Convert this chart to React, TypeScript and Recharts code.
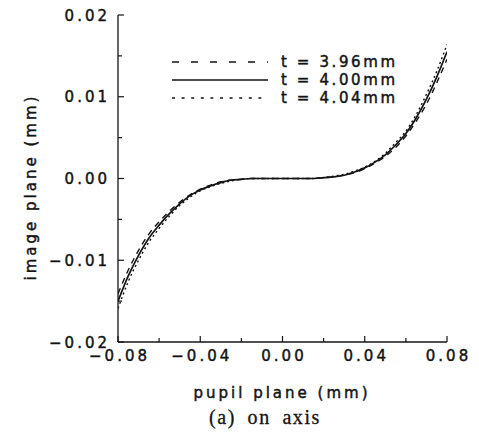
import React from 'react';
import { LineChart, Line, XAxis, YAxis, Customized } from 'recharts';

// pupil plane coordinate (mm)
const pupil = [
  -0.08, -0.075, -0.07, -0.065, -0.06, -0.055, -0.05, -0.045, -0.04, -0.035, -0.03, -0.025, -0.02,
  -0.015, -0.01, -0.005, 0, 0.005, 0.01, 0.015, 0.02, 0.025, 0.03, 0.035, 0.04, 0.045, 0.05, 0.055,
  0.06, 0.065, 0.07, 0.075, 0.08,
];
// image plane (mm), t = 3.96mm (dashed)
const t396 = [
  -0.0141, -0.0112, -0.0088, -0.0068, -0.0053, -0.004, -0.0029, -0.002, -0.0013, -0.0008, -0.0004,
  -0.0002, -0.0001, 0, 0, 0, 0, 0, 0, 0, 0.0001, 0.0002, 0.0004, 0.0007, 0.0012, 0.0019, 0.0027,
  0.0038, 0.0052, 0.007, 0.0091, 0.0117, 0.0146,
];
// t = 4.00mm (solid)
const t400 = [
  -0.015, -0.0119, -0.0094, -0.0073, -0.0057, -0.0043, -0.0031, -0.0021, -0.0014, -0.0009, -0.0005,
  -0.0002, -0.0001, 0, 0, 0, 0, 0, 0, 0, 0.0001, 0.0002, 0.0004, 0.0008, 0.0013, 0.002, 0.0029,
  0.0041, 0.0055, 0.0074, 0.0097, 0.0124, 0.0155,
];
// t = 4.04mm (dotted)
const t404 = [
  -0.0159, -0.0126, -0.01, -0.0078, -0.0061, -0.0046, -0.0033, -0.0023, -0.0015, -0.001, -0.0006,
  -0.0003, -0.0001, 0, 0, 0, 0, 0, 0, 0, 0.0001, 0.0003, 0.0005, 0.0009, 0.0014, 0.0021, 0.0031,
  0.0044, 0.0058, 0.0078, 0.0103, 0.0131, 0.0164,
];

const xTicks = [-0.08, -0.06, -0.04, -0.02, 0, 0.02, 0.04, 0.06, 0.08];
const xMajor = [-0.08, -0.04, 0, 0.04, 0.08];
const yTicks = [-0.02, -0.015, -0.01, -0.005, 0, 0.005, 0.01, 0.015, 0.02];
const yMajor = [-0.02, -0.01, 0, 0.01, 0.02];

const legendItems = [
  { key: 't396', label: 't = 3.96mm', dash: '7 12' },
  { key: 't400', label: 't = 4.00mm', dash: undefined },
  { key: 't404', label: 't = 4.04mm', dash: '3 6.6' },
];

const data = pupil.map((x, i) => ({ x, t396: t396[i], t400: t400[i], t404: t404[i] }));

const INK = '#141414';
const SANS = 'DejaVu Sans, sans-serif';
const TXT = { fontFamily: SANS, fontSize: 15, letterSpacing: 3, fill: INK, stroke: INK, strokeWidth: 0.45 };
const isMajor = (arr: number[], v: number) => arr.some((m) => Math.abs(m - v) < 1e-9);
const fmt = (v: number) => {
  const s = Math.abs(v).toFixed(2);
  return v < -1e-9 ? '\u2212' + s : s;
};

const W = 479;
const H = 437;
const M = { top: 15, right: 32, left: 0, bottom: 0 };
const YW = 118;
const XH = 95;

const BottomTick = (p: any) => {
  const v = p.payload.value;
  const maj = isMajor(xMajor, v);
  const x = p.x;
  const y = p.y;
  return (
    <g>
      <line x1={x} x2={x} y1={y} y2={y - (maj ? 6 : 4)} stroke={INK} strokeWidth={1.2} />
      {maj && (
        <text x={x + 1.5} y={y + 19} textAnchor="middle" {...TXT}>
          {fmt(v)}
        </text>
      )}
    </g>
  );
};
const TopTick = (p: any) => {
  const v = p.payload.value;
  const maj = isMajor(xMajor, v);
  return <line x1={p.x} x2={p.x} y1={p.y} y2={p.y + (maj ? 6 : 4)} stroke={INK} strokeWidth={1.2} />;
};
const LeftTick = (p: any) => {
  const v = p.payload.value;
  const maj = isMajor(yMajor, v);
  const x = p.x;
  const y = p.y;
  return (
    <g>
      <line x1={x} x2={x + (maj ? 6 : 4)} y1={y} y2={y} stroke={INK} strokeWidth={1.2} />
      {maj && (
        <text x={x - 8} y={y + 5.5} textAnchor="end" {...TXT}>
          {fmt(v)}
        </text>
      )}
    </g>
  );
};
const RightTick = (p: any) => {
  const v = p.payload.value;
  const maj = isMajor(yMajor, v);
  return <line x1={p.x} x2={p.x - (maj ? 6 : 4)} y1={p.y} y2={p.y} stroke={INK} strokeWidth={1.2} />;
};

const Legend = () => (
  <g>
    {legendItems.map((it, i) => {
      const y = 62 + i * 18;
      return (
        <g key={it.key}>
          <line x1={172} x2={268} y1={y} y2={y} stroke={INK} strokeWidth={1.6} strokeDasharray={it.dash} />
          <text x={281} y={y + 5} {...TXT} letterSpacing={2.6}>
            {it.label}
          </text>
        </g>
      );
    })}
  </g>
);

const Labels = () => (
  <g>
    <text x={282} y={398} textAnchor="middle" {...TXT}>
      pupil plane (mm)
    </text>
    <text x={31} y={187} transform="rotate(-90 31 187)" textAnchor="middle" dominantBaseline="central" {...TXT}>
      image plane (mm)
    </text>
    <text
      x={265}
      y={424}
      textAnchor="middle"
      fontFamily="Liberation Serif, serif"
      fontSize={20}
      letterSpacing={1.6}
      wordSpacing={5}
      fill={INK}
      stroke={INK}
      strokeWidth={0.3}
    >
      (a) on axis
    </text>
  </g>
);

export default function App() {
  return (
    <div style={{ position: 'absolute', left: 0, top: 0, width: W, height: H, background: '#fff' }}>
      <LineChart width={W} height={H} data={data} margin={M}>
        <XAxis
          xAxisId="b"
          dataKey="x"
          type="number"
          domain={[-0.08, 0.08]}
          ticks={xTicks}
          interval={0}
          height={XH}
          tickSize={0}
          tickMargin={0}
          tickLine={false}
          axisLine={{ stroke: INK, strokeWidth: 1.3 }}
          tick={BottomTick}
          allowDataOverflow
        />
        <XAxis
          xAxisId="t"
          orientation="top"
          dataKey="x"
          type="number"
          domain={[-0.08, 0.08]}
          ticks={xTicks}
          interval={0}
          height={0}
          tickSize={0}
          tickMargin={0}
          tickLine={false}
          axisLine={{ stroke: INK, strokeWidth: 1.3 }}
          tick={TopTick}
          allowDataOverflow
        />
        <YAxis
          yAxisId="l"
          type="number"
          domain={[-0.02, 0.02]}
          ticks={yTicks}
          interval={0}
          width={YW}
          tickSize={0}
          tickMargin={0}
          tickLine={false}
          axisLine={{ stroke: INK, strokeWidth: 1.3 }}
          tick={LeftTick}
          allowDataOverflow
        />
        <YAxis
          yAxisId="r"
          orientation="right"
          type="number"
          domain={[-0.02, 0.02]}
          ticks={yTicks}
          interval={0}
          width={0}
          tickSize={0}
          tickMargin={0}
          tickLine={false}
          axisLine={{ stroke: INK, strokeWidth: 1.3 }}
          tick={RightTick}
          allowDataOverflow
        />
        <Line xAxisId="b" yAxisId="l" dataKey="t396" type="monotone" stroke={INK} strokeWidth={1.4} strokeDasharray="6 5" dot={false} isAnimationActive={false} />
        <Line xAxisId="b" yAxisId="l" dataKey="t400" type="monotone" stroke={INK} strokeWidth={1.7} dot={false} isAnimationActive={false} />
        <Line xAxisId="b" yAxisId="l" dataKey="t404" type="monotone" stroke={INK} strokeWidth={1.4} strokeDasharray="2 3" dot={false} isAnimationActive={false} />
        <Customized component={Legend} />
        <Customized component={Labels} />
      </LineChart>
    </div>
  );
}
